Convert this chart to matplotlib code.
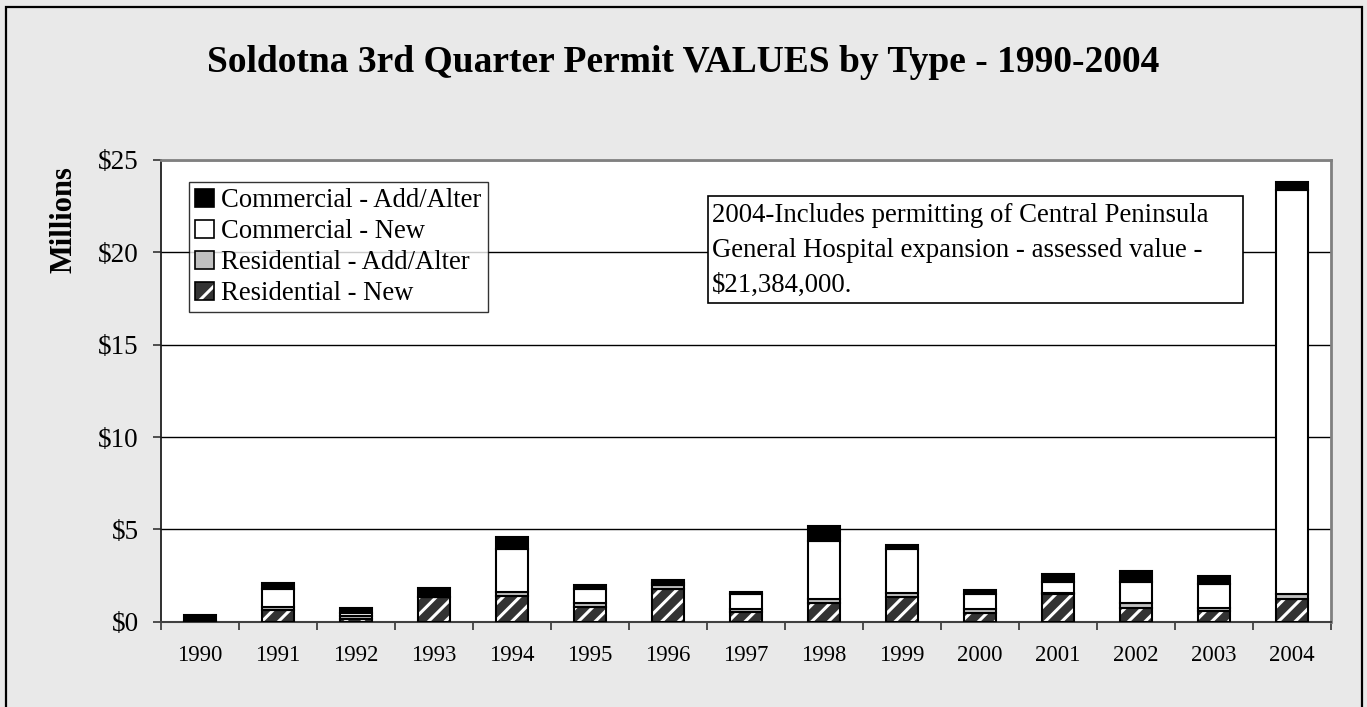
import numpy as np
import matplotlib
matplotlib.use('Agg')
import matplotlib.pyplot as plt
from matplotlib.patches import Patch, Rectangle

# 資料（百萬美元）
years = ['1990', '1991', '1992', '1993', '1994', '1995', '1996', '1997',
         '1998', '1999', '2000', '2001', '2002', '2003', '2004']
res_new = [0.02, 0.63, 0.15, 1.32, 1.41, 0.81, 1.75, 0.51, 1.00, 1.32, 0.49, 1.50, 0.73, 0.60, 1.21]
res_add = [0.04, 0.18, 0.18, 0.00, 0.18, 0.22, 0.24, 0.18, 0.21, 0.25, 0.20, 0.04, 0.27, 0.16, 0.27]
com_new = [0.00, 0.96, 0.12, 0.00, 2.35, 0.76, 0.12, 0.80, 3.18, 2.37, 0.81, 0.59, 1.17, 1.28, 21.90]
com_add = [0.30, 0.31, 0.28, 0.49, 0.66, 0.18, 0.15, 0.10, 0.79, 0.23, 0.22, 0.44, 0.59, 0.43, 0.41]

labels = ['Commercial - Add/Alter', 'Commercial - New',
          'Residential - Add/Alter', 'Residential - New']
yticks = [0, 5, 10, 15, 20, 25]
note = ('2004-Includes permitting of Central Peninsula\n'
        'General Hospital expansion - assessed value -\n'
        '$21,384,000.')

plt.rcParams['font.family'] = ['Liberation Serif', 'DejaVu Serif']
plt.rcParams['hatch.linewidth'] = 2.2

fig = plt.figure(figsize=(13.67, 7.07), dpi=100, facecolor='#e9e9e9')
ax = fig.add_axes([161 / 1367, 1 - 621.7 / 707, 1170 / 1367, 461.7 / 707])
ax.set_facecolor('white')

x = np.arange(len(years))
w = 0.42
edge = 1.5

b1 = np.array(res_new)
b2 = b1 + np.array(res_add)
b3 = b2 + np.array(com_new)

# 住宅新建：深灰底白斜線
ax.bar(x, res_new, w, color='#333333', edgecolor='white', hatch='//', linewidth=0, zorder=3)
ax.bar(x, res_new, w, fill=False, edgecolor='black', linewidth=edge, zorder=4)
ax.bar(x, res_add, w, bottom=b1, color='#c0c0c0', edgecolor='black', linewidth=edge, zorder=4)
ax.bar(x, com_new, w, bottom=b2, color='white', edgecolor='black', linewidth=edge, zorder=4)
ax.bar(x, com_add, w, bottom=b3, color='black', edgecolor='black', linewidth=edge, zorder=4)

ax.set_xlim(-0.5, len(years) - 0.5)
ax.set_ylim(0, 25)
ax.set_yticks(yticks)
ax.set_yticklabels(['$%d' % v for v in yticks], fontsize=19.5)
ax.set_xticks(x)
ax.set_xticklabels(years, fontsize=16.4)
ax.set_xticks(np.arange(len(years) + 1) - 0.5, minor=True)
ax.tick_params(axis='x', which='major', length=0, pad=17)
ax.tick_params(axis='x', which='minor', length=6, width=1.2, direction='out', color='#333333')
ax.tick_params(axis='y', length=6, width=1.2, direction='out', pad=10, color='#333333')
ax.yaxis.grid(True, color='black', linewidth=1.0, zorder=0)
ax.set_axisbelow(True)

ax.spines['top'].set_color('#808080')
ax.spines['right'].set_color('#808080')
ax.spines['top'].set_linewidth(2)
ax.spines['right'].set_linewidth(2)
ax.spines['left'].set_color('#202020')
ax.spines['bottom'].set_color('#404040')
ax.spines['left'].set_linewidth(1.3)
ax.spines['bottom'].set_linewidth(1.5)

# 圖例
handles = [
    Patch(facecolor='black', edgecolor='black', linewidth=1.2),
    Patch(facecolor='white', edgecolor='black', linewidth=1.2),
    Patch(facecolor='#c0c0c0', edgecolor='black', linewidth=1.2),
    (Patch(facecolor='#333333', edgecolor='white', hatch='/', linewidth=0),
     Patch(fill=False, edgecolor='black', linewidth=1.2)),
]
leg = ax.legend(handles, labels, loc='upper left',
                bbox_to_anchor=((189 - 161) / 1170, (621.7 - 182) / 461.7),
                borderaxespad=0, fontsize=19.2, frameon=True, fancybox=False,
                handlelength=0.71, handleheight=0.65, handletextpad=0.25,
                labelspacing=0.22, borderpad=0.24)
leg.get_frame().set_edgecolor('black')
leg.get_frame().set_linewidth(1.0)
leg.set_zorder(6)

# 註解方框
x0 = (708 - 161) / 1170
x1 = (1243 - 161) / 1170
y0 = (621.7 - 303) / 461.7
y1 = (621.7 - 196) / 461.7
ax.add_patch(Rectangle((x0, y0), x1 - x0, y1 - y0, transform=ax.transAxes,
                       facecolor='white', edgecolor='black', linewidth=1.2, zorder=6))
fig.text(712 / 1367, 1 - 203 / 707, note, fontsize=19.3, ha='left', va='top',
         linespacing=1.52, zorder=7)

# 標題與軸標
fig.text(0.5, 1 - 62 / 707, 'Soldotna 3rd Quarter Permit VALUES by Type - 1990-2004',
         fontsize=27, fontweight='bold', ha='center', va='center')
fig.text(64 / 1367, 1 - 220 / 707, 'Millions', fontsize=22, fontweight='bold',
         rotation=90, ha='center', va='center')

# 外框
fig.add_artist(Rectangle((6 / 1367, -0.02), 1356 / 1367, 1 - 7 / 707 + 0.02,
                         transform=fig.transFigure, fill=False,
                         edgecolor='black', linewidth=1.6))

plt.savefig('out.png', dpi=100, facecolor=fig.get_facecolor())
